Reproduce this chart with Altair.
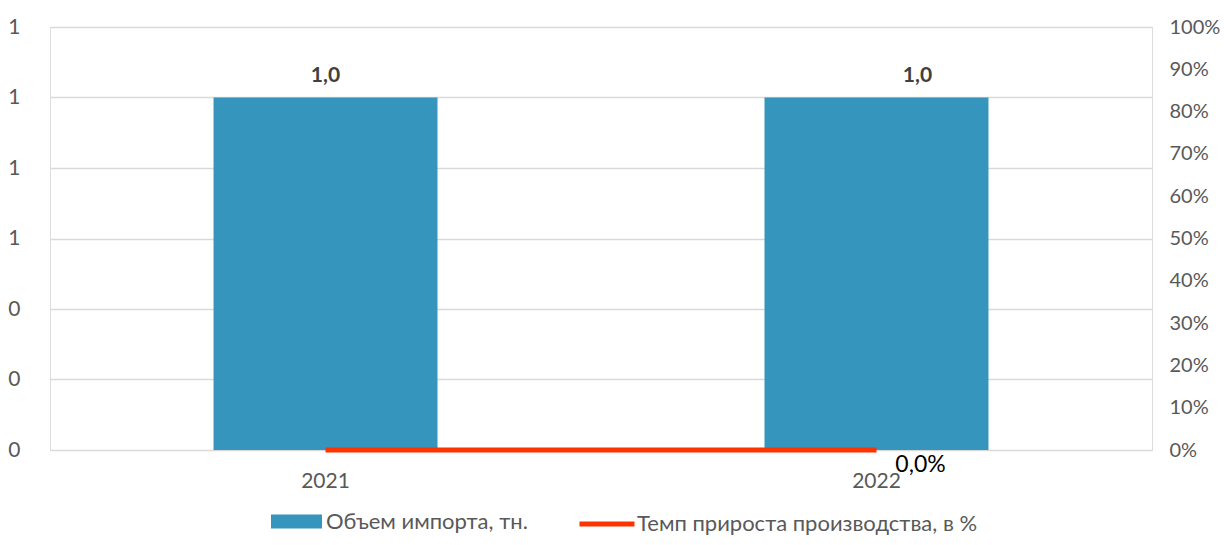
import altair as alt
import pandas as pd

years = ["2021", "2022"]
import_volume = [1.0, 1.0]
growth_rate = [0.0, 0.0]
series_bar = "Объем импорта, тн."
series_line = "Темп прироста производства, в %"
left_ticks = [0, 0.2, 0.4, 0.6, 0.8, 1.0, 1.2]
right_ticks = [0, 0.1, 0.2, 0.3, 0.4, 0.5, 0.6, 0.7, 0.8, 0.9, 1.0]

df = pd.DataFrame({
    "year": years,
    "volume": import_volume,
    "growth": growth_rate,
    "s1": [series_bar] * len(years),
    "s2": [series_line] * len(years),
})

FONT = "Lato"
GRAY = "#595959"
BLUE = "#3595BC"
RED = "#FF3300"
FS = 21
LFS = 22

xenc = alt.X(
    "year:N",
    sort=years,
    scale=alt.Scale(paddingInner=0.5935, paddingOuter=0.2968),
    axis=alt.Axis(title=None, labelAngle=0, ticks=False, domain=False,
                  labelPadding=20, labelColor=GRAY, labelFontSize=FS, labelFont=FONT,
                  grid=False),
)

base = alt.Chart(df).transform_calculate(
    vlabel="replace(format(datum.volume, '.1f'), '.', ',')",
    glabel="replace(format(datum.growth, '.1%'), '.', ',')",
)

yleft = alt.Y(
    "volume:Q",
    scale=alt.Scale(domain=[0, 1.2], nice=False),
    axis=alt.Axis(title=None, values=left_ticks, format=".0f", ticks=False, domain=False,
                  grid=True, gridColor="#D9D9D9", gridWidth=1.5,
                  labelPadding=30, labelColor=GRAY, labelFontSize=FS, labelFont=FONT),
)

bars = base.mark_bar(color=BLUE).encode(
    x=xenc,
    y=yleft,
    color=alt.Color("s1:N", scale=alt.Scale(domain=[series_bar], range=[BLUE]),
                    legend=alt.Legend(title=None, orient="none", legendX=221, legendY=469,
                                      symbolType="M-1,-0.27L1,-0.27L1,0.27L-1,0.27Z",
                                      symbolSize=2601, symbolStrokeWidth=0, symbolOpacity=1,
                                      labelFont=FONT, labelFontSize=LFS, labelColor=GRAY,
                                      labelOffset=4, labelLimit=0)),
)

lbl1 = base.mark_text(dy=-22, fontWeight="bold", font=FONT, fontSize=FS, color="#404040").encode(
    x=alt.X("year:N", sort=years), y=alt.Y("volume:Q"), text="vlabel:N"
).transform_filter(alt.datum.year == years[0])

lbl2 = base.mark_text(dy=-22, dx=41, fontWeight="bold", font=FONT, fontSize=FS, color="#404040").encode(
    x=alt.X("year:N", sort=years), y=alt.Y("volume:Q"), text="vlabel:N"
).transform_filter(alt.datum.year == years[1])

left_layer = alt.layer(bars, lbl1, lbl2)

yright = alt.Y(
    "growth:Q",
    scale=alt.Scale(domain=[0, 1], nice=False),
    axis=alt.Axis(title=None, orient="right", values=right_ticks, format=".0%", ticks=False,
                  domain=False, grid=False, labelPadding=17, labelColor=GRAY,
                  labelFontSize=FS - 1, labelFont=FONT),
)

line = base.mark_line(strokeWidth=5, strokeCap="butt").encode(
    x=alt.X("year:N", sort=years),
    y=yright,
    color=alt.Color("s2:N", scale=alt.Scale(domain=[series_line], range=[RED]),
                    legend=alt.Legend(title=None, orient="none", legendX=527, legendY=467,
                                      symbolType="stroke", symbolSize=3025,
                                      symbolStrokeWidth=5,
                                      labelFont=FONT, labelFontSize=LFS, labelColor=GRAY,
                                      labelOffset=0, labelLimit=0)),
)

glbl = base.mark_text(dx=44, dy=15, font=FONT, fontSize=FS + 2, color="#000000").encode(
    x=alt.X("year:N", sort=years), y=alt.Y("growth:Q"), text="glabel:N"
).transform_filter(alt.datum.year == years[1])

right_layer = alt.layer(line, glbl)

chart = alt.layer(left_layer, right_layer).resolve_scale(
    y="independent", color="independent"
).properties(
    width=1102, height=423,
    autosize=alt.AutoSizeParams(type="none"),
    padding={"left": 42, "top": 19, "right": 70, "bottom": 87},
).configure_view(stroke=None).configure(background="white")

chart.save("out.html", embed_options={"renderer": "svg", "actions": False})
